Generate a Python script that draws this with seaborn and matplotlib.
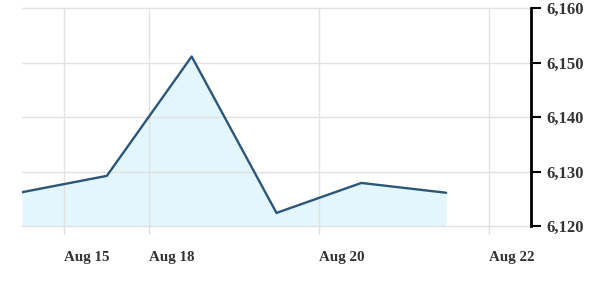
import matplotlib
matplotlib.use("Agg")
import matplotlib.pyplot as plt
import seaborn as sns
import pandas as pd

# Data: trading-day index (Aug 15 = 0, Aug 18 = 1, ...), closing values
day_index = [-0.5, 0.5, 1.5, 2.5, 3.5, 4.5]
values = [6126.2, 6129.2, 6151.1, 6122.4, 6127.9, 6126.1]
tick_days = [0, 1, 3, 5]
tick_labels = ["Aug 15", "Aug 18", "Aug 20", "Aug 22"]
y_ticks = [6120, 6130, 6140, 6150, 6160]

df = pd.DataFrame({"day": day_index, "value": values})

sns.set_theme(style="white")
plt.rcParams["font.family"] = ["Liberation Serif", "DejaVu Serif"]

fig = plt.figure(figsize=(6.0, 2.83), dpi=100)
ax = fig.add_axes([22/600, 1-226/283, (531-22)/600, (226-8)/283])

ax.fill_between(df["day"], df["value"], 6120, color="#e2f6fb", zorder=1, linewidth=0)
sns.lineplot(data=df, x="day", y="value", ax=ax, color="#2b5677", linewidth=1.7, zorder=3)

ax.set_xlim(-0.5, 5.5)
ax.set_ylim(6120, 6160)

ax.set_xticks(tick_days)
ax.set_xticklabels(tick_labels, ha="left", fontsize=10.8, fontweight="bold", color="#333333")
ax.set_yticks(y_ticks)
ax.set_yticklabels([f"{v:,}" for v in y_ticks], fontsize=12, fontweight="bold", color="#333333")

ax.yaxis.tick_right()
ax.tick_params(axis="y", direction="out", length=7, width=1.5, color="black", pad=4)
ax.tick_params(axis="x", direction="out", length=6, width=1, color="#dddddd", pad=12)
ax.tick_params(axis="x", bottom=True)

ax.set_axisbelow(False)
ax.grid(True, color="#e1e1e1", linewidth=1, zorder=2)
for gl in ax.get_ygridlines() + ax.get_xgridlines():
    gl.set_clip_on(False)

for s in ["top", "left", "bottom"]:
    ax.spines[s].set_visible(False)
ax.spines["right"].set_color("black")
ax.spines["right"].set_linewidth(2)
ax.spines["right"].set_zorder(4)

ax.set_xlabel("")
ax.set_ylabel("")

fig.savefig("out.png", dpi=100, facecolor="white")
